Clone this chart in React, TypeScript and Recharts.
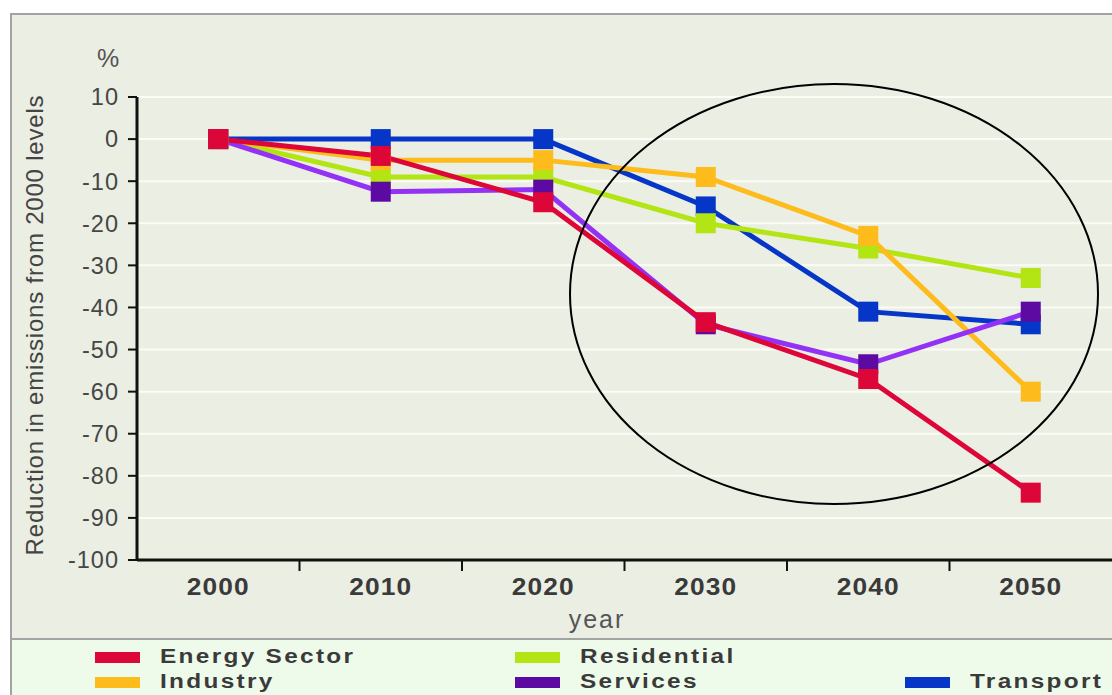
import { LineChart, Line, XAxis, YAxis, CartesianGrid } from 'recharts';

const years = [2000, 2010, 2020, 2030, 2040, 2050];
const energySector = [0, -4, -15, -43.5, -57, -84];
const industry = [0, -5, -5, -9, -23, -60];
const residential = [0, -9, -9, -20, -26, -33];
const services = [0, -12.5, -12, -44, -53.5, -41];
const transport = [0, 0, 0, -16, -41, -44];

const yTicks = [10, 0, -10, -20, -30, -40, -50, -60, -70, -80, -90, -100];
const xTicks = [2000, 2005, 2010, 2015, 2020, 2025, 2030, 2035, 2040, 2045, 2050];

const series = [
  { key: 'transport', name: 'Transport', values: transport, line: '#0636c8', marker: '#0636c8' },
  { key: 'residential', name: 'Residential', values: residential, line: '#b3e514', marker: '#b3e514' },
  { key: 'industry', name: 'Industry', values: industry, line: '#fdbb1c', marker: '#fdbb1c' },
  { key: 'services', name: 'Services', values: services, line: '#9332f5', marker: '#5c0aa2' },
  { key: 'energy', name: 'Energy Sector', values: energySector, line: '#dc0639', marker: '#dc0639' },
];

// legend slots: [column, row]
const legendOrder = [
  { key: 'energy', col: 0, row: 0 },
  { key: 'industry', col: 0, row: 1 },
  { key: 'residential', col: 1, row: 0 },
  { key: 'services', col: 1, row: 1 },
  { key: 'transport', col: 2, row: 1 },
];
const legendCols = [95, 515, 905];

const data = years.map((year, i) => {
  const row: Record<string, number> = { year };
  series.forEach((s) => (row[s.key] = s.values[i]));
  return row;
});

const FONT = '"Liberation Sans", Arial, Helvetica, sans-serif';

function XTick(props: any) {
  const { x, y, payload } = props;
  if (payload.value % 10 !== 0) {
    return <line x1={x} x2={x} y1={y} y2={y + 11} stroke="#111" strokeWidth={2} />;
  }
  return (
    <text
      x={x}
      y={y + 35}
      transform={`translate(${x} 0) scale(1.12 1) translate(${-x} 0)`}
      textAnchor="middle"
      fontFamily={FONT}
      fontSize={23.5}
      fontWeight="bold"
      fill="#3a3a3a"
      letterSpacing={1}
    >
      {payload.value}
    </text>
  );
}

function squareDot(color: string) {
  return (p: any) => {
    if (p.cx == null || p.cy == null) return <g key={p.key} />;
    return <rect key={p.key} x={p.cx - 10} y={p.cy - 10} width={20} height={20} fill={color} />;
  };
}

export default function App() {
  return (
    <div style={{ position: 'absolute', left: 0, top: 0, width: 1112, height: 695, overflow: 'hidden', background: '#fff' }}>
      <div style={{ position: 'absolute', left: 10, top: 13, width: 1120, height: 700, border: '2px solid #a3a3a3', background: '#ebeee2', boxSizing: 'border-box' }} />
      <div style={{ position: 'absolute', left: 12, top: 638, width: 1110, height: 60, borderTop: '2px solid #a3a3a3', background: '#effbea' }} />

      <div style={{ position: 'absolute', left: 0, top: 0 }}>
        <LineChart width={1112} height={640} data={data} margin={{ top: 97, right: 0, bottom: 0, left: 0 }}>
          <CartesianGrid vertical={false} stroke="#fbfcf5" strokeWidth={2} />
          <XAxis
            dataKey="year"
            type="number"
            domain={[1995, 2055]}
            ticks={xTicks}
            interval={0}
            height={80}
            tickLine={false}
            tickSize={0}
            tickMargin={0}
            tick={<XTick />}
            axisLine={{ stroke: '#111', strokeWidth: 3 }}
          />
          <YAxis
            type="number"
            domain={[-100, 10]}
            ticks={yTicks}
            interval={0}
            width={137}
            tickSize={9}
            tickMargin={9}
            tickLine={{ stroke: '#111', strokeWidth: 2 }}
            axisLine={{ stroke: '#111', strokeWidth: 3 }}
            tick={{ fontFamily: FONT, fontSize: 23.5, fill: '#464646', letterSpacing: 1 }}
          />
          {series.map((s) => (
            <Line
              key={s.key}
              dataKey={s.key}
              name={s.name}
              type="linear"
              stroke={s.line}
              strokeWidth={5}
              dot={squareDot(s.marker)}
              activeDot={false}
              isAnimationActive={false}
            />
          ))}
        </LineChart>
      </div>

      <svg width={1112} height={640} style={{ position: 'absolute', left: 0, top: 0, pointerEvents: 'none' }}>
        <ellipse cx={834} cy={294} rx={264} ry={210} fill="none" stroke="#000" strokeWidth={2} />
        <text x={97} y={67} fontFamily={FONT} fontSize={25} fill="#555">%</text>
        <text
          x={43}
          y={325}
          transform="rotate(-90 43 325)"
          textAnchor="middle"
          fontFamily={FONT}
          fontSize={24}
          fill="#444"
          letterSpacing={0.8}
        >
          Reduction in emissions from 2000 levels
        </text>
        <text x={597} y={628} textAnchor="middle" fontFamily={FONT} fontSize={25} fill="#555" letterSpacing={2}>
          year
        </text>
      </svg>

      {legendOrder.map((l) => {
        const s = series.find((x) => x.key === l.key)!;
        const left = legendCols[l.col];
        const top = 652 + l.row * 25;
        return (
          <div key={l.key}>
            <div style={{ position: 'absolute', left, top, width: 45, height: 11, background: s.marker }} />
            <div
              style={{
                position: 'absolute',
                left: left + 65,
                top: top - 8,
                fontFamily: FONT,
                fontSize: 19.5,
                fontWeight: 'bold',
                letterSpacing: 1.85,
                color: '#3a3a3a',
                lineHeight: '24px',
                whiteSpace: 'nowrap',
                transform: 'scaleX(1.25)',
                transformOrigin: 'left center',
              }}
            >
              {s.name}
            </div>
          </div>
        );
      })}
    </div>
  );
}
